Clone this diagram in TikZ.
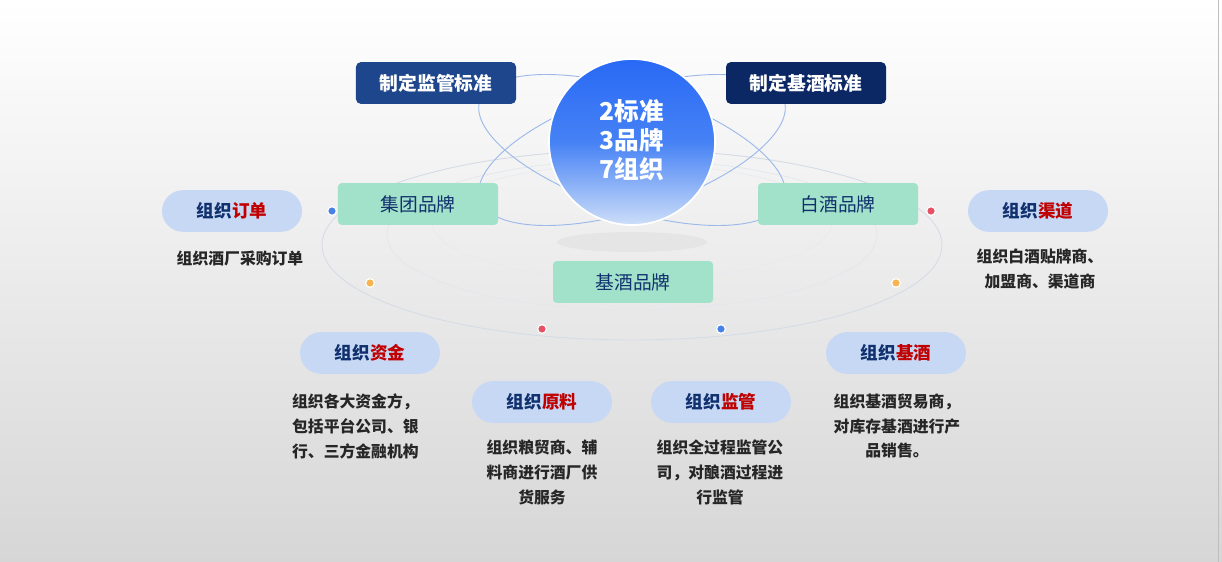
\documentclass[tikz,border=0pt]{standalone}
\usepackage{fontspec}
\setmainfont{Noto Sans CJK SC}
\usetikzlibrary{positioning}
\definecolor{navy}{HTML}{10306E}
\definecolor{hired}{HTML}{C00000}
\definecolor{pillblue}{HTML}{C6D8F4}
\definecolor{brandgreen}{HTML}{A2E2CA}
\definecolor{ringgray}{HTML}{D6DCE6}
\definecolor{orbit}{HTML}{9DB9EA}
\tikzset{
  stdbox/.style={rounded corners=4pt, minimum width=4.8cm, minimum height=1.25cm, text=white, font=\fontsize{16}{19}\selectfont\bfseries},
  brand/.style={rounded corners=3pt, fill=brandgreen, minimum width=4.8cm, minimum height=1.25cm, text=navy, font=\fontsize{16}{19}\selectfont},
  pill/.style={rounded corners=0.63cm, fill=pillblue, minimum width=4.2cm, minimum height=1.25cm, font=\fontsize{15}{18}\selectfont\bfseries},
  desc/.style={text=black!85, font=\fontsize{13.5}{21}\selectfont\bfseries, align=center},
  dot/.style={circle, inner sep=0pt, minimum size=0.26cm, draw=white, line width=1pt}
}
\newcommand{\zz}[1]{\textcolor{navy}{组织}\textcolor{hired}{#1}}
\begin{document}
\begin{tikzpicture}[x=0.03cm, y=-0.03cm]
\shade[top color=white, bottom color=black!16] (0,0) rectangle (1222,562);
\useasboundingbox (0,0) rectangle (1222,562);
\draw[black!25] (1218,0) -- (1218,562);
% rings
\draw[ringgray, line width=0.8pt] (632,245) ellipse (310 and 95);
\draw[ringgray!70, line width=0.6pt] (632,235) ellipse (245 and 75);
\draw[ringgray!60, line width=0.6pt] (632,222) ellipse (200 and 58);
\draw[orbit, line width=0.8pt, rotate around={18:(632,150)}] (632,150) ellipse (160 and 60);
\draw[orbit, line width=0.8pt, rotate around={-18:(632,150)}] (632,150) ellipse (160 and 60);
% shadow
\fill[black!12, opacity=0.6] (632,242) ellipse (75 and 10);
% centre
\shade[top color={rgb,255:red,40;green,105;blue,245}, bottom color={rgb,255:red,205;green,222;blue,248}, middle color={rgb,255:red,70;green,130;blue,245}] (632,142) circle (83);
\draw[white, line width=1.5pt] (632,142) circle (83);
\node[text=white, align=center, font=\fontsize{21}{25}\selectfont\bfseries] (core) at (632,140) {2标准\\3品牌\\7组织};
% standards
\node[stdbox, fill={rgb,255:red,30;green,70;blue,140}] (jg) at (436,83) {制定监管标准};
\node[stdbox, fill={rgb,255:red,12;green,40;blue,100}] (jj) at (806,83) {制定基酒标准};
% brands
\node[brand] (jt) at (418,204) {集团品牌};
\node[brand] (bj) at (838,204) {白酒品牌};
\node[brand] (jjp) at (633,282) {基酒品牌};
% dots
\foreach \p/\c in {{332,211}/{rgb,255:red,70;green,130;blue,230}, {370,283}/{rgb,255:red,245;green,180;blue,80}, {542,329}/{rgb,255:red,230;green,80;blue,100}, {721,329}/{rgb,255:red,70;green,130;blue,230}, {896,283}/{rgb,255:red,245;green,180;blue,80}, {931,211}/{rgb,255:red,230;green,80;blue,100}}
  \node[dot, fill=\c] at (\p) {};
% organisations
\node[pill] (dd) at (232,211) {\zz{订单}};
\node[pill] (qd) at (1038,211) {\zz{渠道}};
\node[pill] (zj) at (370,353) {\zz{资金}};
\node[pill] (yl) at (542,402) {\zz{原料}};
\node[pill] (jgz) at (721,402) {\zz{监管}};
\node[pill] (jjz) at (896,353) {\zz{基酒}};
\node[desc] (d1) at (240,258) {组织酒厂采购订单};
\node[desc, anchor=north] (d2) at (1040,245) {组织白酒贴牌商、\\加盟商、渠道商};
\node[desc, anchor=north west, align=left] (d3) at (288,390) {组织各大资金方，\\包括平台公司、银\\行、三方金融机构};
\node[desc, anchor=north] (d4) at (542,436) {组织粮贸商、辅\\料商进行酒厂供\\货服务};
\node[desc, anchor=north] (d5) at (720,436) {组织全过程监管公\\司，对酿酒过程进\\行监管};
\node[desc, anchor=north] (d6) at (897,390) {组织基酒贸易商，\\对库存基酒进行产\\品销售。};
\end{tikzpicture}
\end{document}
